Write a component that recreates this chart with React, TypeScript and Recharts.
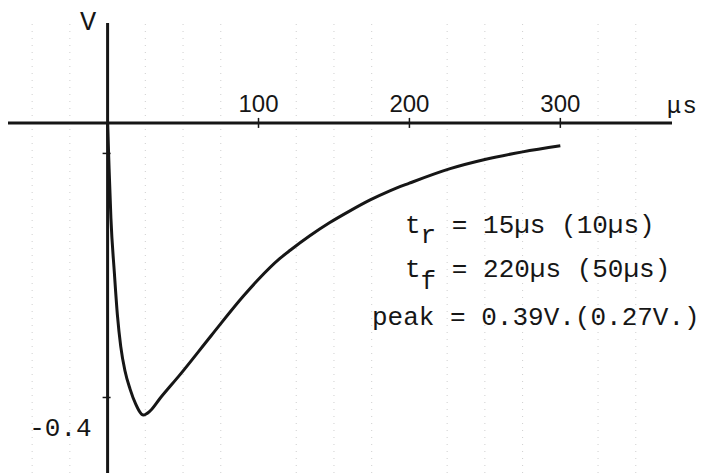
import React from "react";
import { LineChart, Line, XAxis, YAxis, ReferenceLine, ReferenceDot } from "recharts";

// pulse response (µs, V)
const times = [0, 1, 2.2, 4.5, 6.5, 8.7, 11.5, 14.9, 18.5, 23.7, 28, 34.8, 48, 69, 90, 100, 114, 121, 134, 147, 160, 174, 187, 200, 227, 250, 275, 300];
const volts = [0, -0.06, -0.125, -0.197, -0.252, -0.293, -0.325, -0.349, -0.368, -0.383, -0.378, -0.361, -0.33, -0.278, -0.227, -0.205, -0.178, -0.167, -0.148, -0.131, -0.116, -0.101, -0.089, -0.079, -0.06, -0.048, -0.038, -0.03];

const xTicks = [100, 200, 300];
const xTickLabels = ["100", "200", "300"];
const yTicks = [-0.04, -0.36];
const yLabelValue = -0.4;
const yLabel = "-0.4";
const gridTimes = [-50, -25, 25, 50, 75, 125, 150, 175, 225, 250, 275, 325, 350];

const data = times.map((t, i) => ({ t, v: volts[i] }));

const INK = "#161616";
const MONO = "'Liberation Mono', 'DejaVu Sans Mono', monospace";
const SANS = "'Liberation Sans', Arial, sans-serif";

export default function App() {
  return (
    <div style={{ position: "absolute", left: 0, top: 0, width: 706, height: 475, background: "#fff" }}>
      <LineChart width={706} height={475} data={data} margin={{ top: 23, right: 34, bottom: 2, left: 8 }}>
        <XAxis dataKey="t" type="number" domain={[-66, 374]} hide allowDataOverflow />
        <YAxis type="number" domain={[-0.459, 0.131]} hide allowDataOverflow />
        {gridTimes.map((g) => (
          <ReferenceLine key={g} x={g} stroke="#cfcfcf" strokeWidth={1} strokeDasharray="1 6" />
        ))}
        <ReferenceLine y={0} stroke={INK} strokeWidth={3} />
        <ReferenceLine x={0} stroke={INK} strokeWidth={3} />
        {xTicks.map((t, i) => (
          <ReferenceDot
            key={t}
            x={t}
            y={0}
            r={0}
            ifOverflow="visible"
            shape={(p: any) => (
              <g>
                <line x1={p.cx} x2={p.cx} y1={p.cy - 5} y2={p.cy + 5} stroke={INK} strokeWidth={1.5} />
                <text x={p.cx} y={p.cy - 11} textAnchor="middle" fontFamily={SANS} fontSize={24} fill={INK}>
                  {xTickLabels[i]}
                </text>
              </g>
            )}
          />
        ))}
        {yTicks.map((v) => (
          <ReferenceDot
            key={v}
            x={0}
            y={v}
            r={0}
            ifOverflow="visible"
            shape={(p: any) => (
              <line x1={p.cx - 5} x2={p.cx + 3} y1={p.cy} y2={p.cy} stroke={INK} strokeWidth={1.5} />
            )}
          />
        ))}
        <ReferenceDot
          x={0}
          y={yLabelValue}
          r={0}
          ifOverflow="visible"
          shape={(p: any) => (
            <text x={p.cx - 16} y={p.cy + 8} textAnchor="end" fontFamily={MONO} fontSize={26} fill={INK}>
              {yLabel}
            </text>
          )}
        />
        <Line
          type="monotone"
          dataKey="v"
          stroke={INK}
          strokeWidth={3}
          dot={false}
          isAnimationActive={false}
        />
      </LineChart>
      <svg width={706} height={475} style={{ position: "absolute", left: 0, top: 0, pointerEvents: "none" }}>
        <text x={88} y={30} textAnchor="middle" fontFamily={MONO} fontSize={27} fill={INK}>V</text>
        <text x={667} y={113} fontFamily={SANS} fontSize={24} fill={INK}>
          µ<tspan dx={3}>s</tspan>
        </text>
        <g fontFamily={MONO} fontSize={26} fill={INK}>
          <text x={405} y={233}>
            t<tspan dy={10}>r</tspan><tspan dy={-10}> = 15µs (10µs)</tspan>
          </text>
          <text x={405} y={277}>
            t<tspan dy={12}>f</tspan><tspan dy={-12}> = 220µs (50µs)</tspan>
          </text>
          <text x={372} y={325}>peak = 0.39V.(0.27V.)</text>
        </g>
      </svg>
    </div>
  );
}
